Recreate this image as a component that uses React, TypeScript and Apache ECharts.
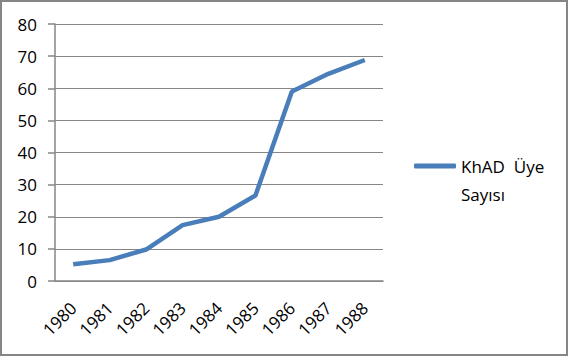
import React, { useEffect, useRef } from "react";
import * as echarts from "echarts";

const years = ["1980", "1981", "1982", "1983", "1984", "1985", "1986", "1987", "1988"];
const members = [5.2, 6.5, 9.8, 17.4, 20.0, 26.6, 59.0, 64.5, 68.8];
const seriesName = "KhAD  Üye Sayısı";
const FONT = "Open Sans";
const GREY = "#868686";

export default function App() {
  const ref = useRef<HTMLDivElement>(null);
  useEffect(() => {
    if (!ref.current) return;
    const chart = echarts.init(ref.current, undefined, { renderer: "svg" });
    chart.setOption({
      animation: false,
      backgroundColor: "#ffffff",
      grid: { left: 55, top: 24, right: 188, bottom: 76, containLabel: false },
      graphic: [
        {
          type: "rect",
          shape: { x: 1, y: 1, width: 566, height: 354 },
          style: { fill: "none", stroke: GREY, lineWidth: 2 },
          silent: true,
        },
      ],
      legend: {
        left: 414,
        top: 124,
        padding: 0,
        orient: "vertical",
        itemWidth: 42,
        itemHeight: 5,
        icon: "roundRect",
        data: [{ name: seriesName }],
        formatter: () => "\nKhAD  Üye\nSayısı",
        textStyle: { fontFamily: FONT, fontSize: 17, color: "#000", lineHeight: 28 },
      },
      xAxis: {
        type: "category",
        data: years,
        boundaryGap: true,
        axisLine: { lineStyle: { color: GREY, width: 1.5 } },
        axisTick: { length: 6, lineStyle: { color: GREY, width: 1.5 } },
        axisLabel: {
          rotate: 45,
          margin: 24,
          fontFamily: FONT,
          fontSize: 17,
          color: "#000",
          interval: 0,
        },
        splitLine: { show: false },
      },
      yAxis: {
        type: "value",
        min: 0,
        max: 80,
        interval: 10,
        axisLine: { show: true, lineStyle: { color: GREY, width: 1.5 } },
        axisTick: { show: true, length: 7, lineStyle: { color: GREY, width: 1.5 } },
        axisLabel: { margin: 18, fontFamily: FONT, fontSize: 17, color: "#000" },
        splitLine: { show: true, lineStyle: { color: GREY, width: 1.2 } },
      },
      series: [
        {
          name: seriesName,
          type: "line",
          data: members,
          symbol: "none",
          lineStyle: { color: "#4a7ebb", width: 4.5 },
          itemStyle: { color: "#4a7ebb" },
        },
      ],
    });
    return () => chart.dispose();
  }, []);
  return (
    <div
      ref={ref}
      style={{ position: "fixed", left: 0, top: 0, width: 571, height: 357 }}
    />
  );
}
